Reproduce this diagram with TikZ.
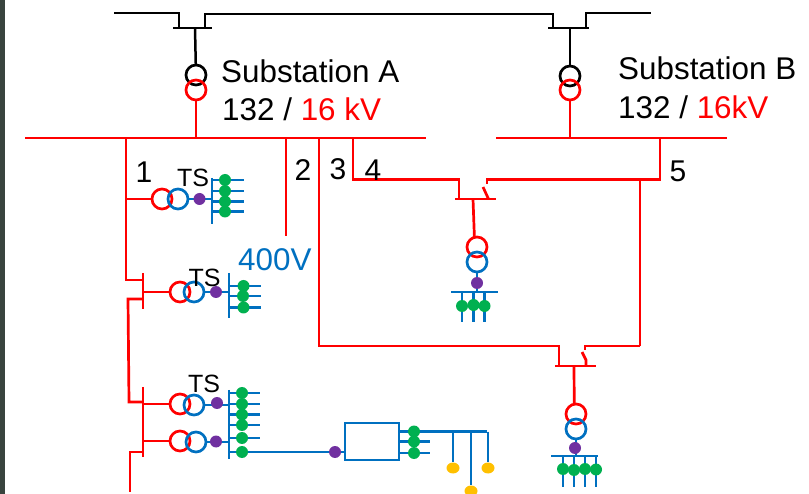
\documentclass[tikz,border=0pt]{standalone}
\usepackage{fontspec}
\setmainfont{Liberation Sans}
\usetikzlibrary{shapes.geometric,backgrounds}
\definecolor{lvblue}{HTML}{0070C0}
\definecolor{lvgreen}{HTML}{00B050}
\definecolor{lvpurple}{HTML}{7030A0}
\definecolor{lvyellow}{HTML}{FFC000}
\definecolor{photo}{HTML}{39443E}
\tikzstyle{hv} = [line width=2.5pt,black]
\tikzstyle{mv} = [line width=2.7pt,red]
\tikzstyle{lv} = [line width=2.7pt,lvblue]
\tikzstyle{winding} = [circle, minimum size=20pt, inner sep=0pt, outer sep=0pt, line width=2.7pt]
\tikzstyle{hvwinding} = [winding, draw=black]
\tikzstyle{mvwinding} = [winding, draw=red]
\tikzstyle{lvwinding} = [winding, draw=lvblue]
\tikzstyle{meter} = [circle, minimum size=12pt, inner sep=0pt, fill=lvpurple]
\tikzstyle{load} = [circle, minimum size=12pt, inner sep=0pt, fill=lvgreen]
\tikzstyle{pv} = [ellipse, minimum width=13pt, minimum height=11pt, inner sep=0pt, fill=lvyellow]
\tikzstyle{big} = [anchor=base west, inner sep=0pt, font=\fontsize{31.4}{31.4}\selectfont]
\tikzstyle{num} = [inner sep=0pt, font=\fontsize{30}{30}\selectfont]
\tikzstyle{tslabel} = [inner sep=0pt, font=\fontsize{25}{25}\selectfont]
\begin{document}
\begin{tikzpicture}[x=1pt,y=-1pt]
\useasboundingbox (0,0) rectangle (809,494);
\fill [photo] (0,0) rectangle (4.5,494);
% substations
\node (txAh)[hvwinding] at (196,75){};
\node (txBh)[hvwinding] at (570,76){};
\node (txAm)[mvwinding] at (196,90){};
\node (txBm)[mvwinding] at (570,90){};
\node (subA)[big] at (221,83){Substation A};
\node (kvA)[big] at (222,121){132 / \textcolor{red}{16 kV}};
\node (subB)[big] at (618,79.5){Substation B};
\node (kvB)[big] at (618,119){132 / \textcolor{red}{16kV}};
\node (lvtext)[big, text=lvblue] at (238,271){400V};
\node (numOne)[num] at (144,172){1};
\node (numTwo)[num] at (303,170){2};
\node (numThree)[num] at (338,169.5){3};
\node (numFour)[num] at (373,170){4};
\node (numFive)[num] at (678,171.5){5};
% first TS
\node (ts1m)[mvwinding] at (162,199){};
\node (ts1l)[lvwinding] at (178,199){};
\node (ts1p)[meter] at (199.5,199){};
\node (ts1x)[tslabel] at (193,178){TS};
\node (g1a)[load] at (225,180){};
\node (g1b)[load] at (225,191){};
\node (g1c)[load] at (225,201.5){};
\node (g1d)[load] at (225,211.5){};
% second TS
\node (ts2m)[mvwinding] at (180,292){};
\node (ts2l)[lvwinding] at (194,292){};
\node (ts2p)[meter] at (216,292){};
\node (ts2x)[tslabel] at (204.5,277.5){TS};
\node (g2a)[load] at (243.5,286){};
\node (g2b)[load] at (243,296){};
\node (g2c)[load] at (243.5,307.5){};
% third TS
\node (ts3m)[mvwinding] at (180,404){};
\node (ts3l)[lvwinding] at (194,405){};
\node (ts3p)[meter] at (217,403){};
\node (ts3x)[tslabel] at (204,384){TS};
\node (ts4m)[mvwinding] at (180,441){};
\node (ts4l)[lvwinding] at (196,442){};
\node (ts4p)[meter] at (216,441.5){};
\node (g3a)[load] at (242,393){};
\node (g3b)[load] at (242,404){};
\node (g3c)[load] at (242,414.5){};
\node (g3d)[load] at (242,425){};
\node (g3e)[load] at (242,438){};
\node (g3f)[load] at (242,452){};
% cabinet
\node (cab)[draw=lvblue, line width=2.7pt, minimum width=54pt, minimum height=37pt, inner sep=0pt, outer sep=0pt] at (372,441.5){};
\node (cabp)[meter] at (335,452){};
\node (g5a)[load] at (414,431.5){};
\node (g5b)[load] at (414,441.5){};
\node (g5c)[load] at (414,453){};
\node (pvA)[pv] at (453,468){};
\node (pvB)[pv] at (471,491){};
\node (pvC)[pv] at (488,468){};
% TS under the sectionaliser
\node (secm)[mvwinding] at (477,247){};
\node (secl)[lvwinding] at (477,262){};
\node (secp)[meter] at (477,283){};
\node (g6a)[load] at (462,306){};
\node (g6b)[load] at (473.5,305){};
\node (g6c)[load] at (484.5,306){};
% TS under the ring unit
\node (rmum)[mvwinding] at (576,414){};
\node (rmul)[lvwinding] at (576,429){};
\node (rmup)[meter] at (575,448){};
\node (g7a)[load] at (563,469){};
\node (g7b)[load] at (574,470){};
\node (g7c)[load] at (585,469){};
\node (g7d)[load] at (596,469.5){};
% free ends
\coordinate (lineL) at (114,13);
\coordinate (lineM) at (553,14);
\coordinate (lineR) at (651,13);
\coordinate (barAl) at (173,28);
\coordinate (barAr) at (212,28);
\coordinate (barAa) at (179,28);
\coordinate (barAb) at (205,28);
\coordinate (barAt) at (195,28);
\coordinate (barBl) at (548,28);
\coordinate (barBr) at (589,28);
\coordinate (barBa) at (553,28);
\coordinate (barBb) at (586,28);
\coordinate (barBt) at (570,28);
\coordinate (busAl) at (25,138);
\coordinate (busAr) at (426,138);
\coordinate (busBl) at (496,138);
\coordinate (busBr) at (727,138);
\coordinate (feedTwo) at (286,236);
\coordinate (feedThree) at (319,346);
\coordinate (rmuSl) at (559,346);
\coordinate (rmuSr) at (585,346);
\coordinate (rmuBl) at (555,366);
\coordinate (rmuBr) at (596,366);
\coordinate (rmuBt) at (574,366);
\coordinate (rmuK) at (582,352);
\coordinate (rmuKb) at (586,360);
\coordinate (feedFive) at (640,346);
\coordinate (feedFour) at (353,179.5);
\coordinate (secSl) at (459,179.5);
\coordinate (secSr) at (487,179.5);
\coordinate (secBl) at (455,199);
\coordinate (secBr) at (496,199);
\coordinate (secBt) at (473,199);
\coordinate (secK) at (483,187);
\coordinate (secKb) at (488.5,199);
\coordinate (feedFiveT) at (660,179.5);
\coordinate (feedOne) at (126,280);
\coordinate (t2) at (143,273);
\coordinate (t2b) at (143,309);
\coordinate (t2c) at (128,299);
\coordinate (t3) at (143,387);
\coordinate (t3b) at (143,457);
\coordinate (t3c) at (129,402);
\coordinate (t3d) at (130,452);
\coordinate (t3e) at (130,492);
\coordinate (ts1t) at (212,178);
\coordinate (ts1b) at (212,224);
\coordinate (ts1e) at (244,180);
\coordinate (ts2t) at (229,273);
\coordinate (ts2b) at (229,318);
\coordinate (ts2e) at (261,287);
\coordinate (ts3t) at (229,390);
\coordinate (ts3b) at (229,459);
\coordinate (ts3e) at (260,393);
\coordinate (cabE) at (430,432);
\coordinate (pvE) at (487,432);
\coordinate (secbl) at (451,292);
\coordinate (secbr) at (498,292);
\coordinate (sece) at (463,322);
\coordinate (rmubl) at (551,456);
\coordinate (rmubr) at (598,456);
\coordinate (rmue) at (564,487);
\begin{scope}[on background layer]
% 132 kV side
\draw [hv](lineL) -| (barAa);
\draw [hv](barAb) |- (lineM) -- (barBa);
\draw [hv](barBb) |- (lineR);
\draw [hv](barAl) -- (barAr);
\draw [hv](barBl) -- (barBr);
\draw [hv](barAt) -- (txAh);
\draw [hv](barBt) -- (txBh);
% 16 kV side
\draw [mv](busAl) -- (busAr);
\draw [mv](busBl) -- (busBr);
\draw [mv](txAm) -- (txAm|-busAl);
\draw [mv](txBm) -- (txBm|-busBl);
\draw [mv](feedTwo|-busAl) -- (feedTwo);
\draw [mv](feedThree|-busAl) -- (feedThree) -- (rmuSl) -- (rmuSl|-rmuBl);
\draw [mv](rmuBl) -- (rmuBr);
\draw [mv](feedFive) -- (rmuSr) -- ++(0,4);
\draw [mv](rmuK) -- (rmuKb) -- (rmuKb|-rmuBl);
\draw [mv](rmuBt) -- (rmum.100);
\draw [mv](feedFour|-busAl) -- (feedFour) -- (secSl) -- (secSl|-secBl);
\draw [mv](secBl) -- (secBr);
\draw [mv](feedFiveT|-busBl) -- (feedFiveT) -- (secSr) -- ++(0,4.5);
\draw [mv](secK) -- (secKb);
\draw [mv](secBt) -- (secm.105);
\draw [mv](feedFive|-feedFiveT) -- (feedFive);
\draw [mv](feedOne|-busAl) -- (feedOne) -- (feedOne-|t2);
\draw [mv](t2) -- (t2b);
\draw [mv](t2c-|t2) -- (t2c) -- (t3c) -- (t3c-|t3);
\draw [mv](t3) -- (t3b);
\draw [mv](t3d-|t3) -- (t3d) -- (t3e);
\draw [mv](feedOne|-ts1m) -- (ts1m);
\draw [mv](t2|-ts2m) -- (ts2m);
\draw [mv](t3|-ts3m) -- (ts3m);
\draw [mv](t3|-ts4m) -- (ts4m);
% first TS
\draw [lv](ts1l) -- (ts1l-|ts1t);
\draw [lv](ts1t) -- (ts1b);
\draw [lv](ts1t|-g1a) -- (ts1e|-g1a);
\draw [lv](ts1t|-g1b) -- (ts1e|-g1b);
\draw [lv](ts1t|-g1c) -- (ts1e|-g1c);
\draw [lv](ts1t|-g1d) -- (ts1e|-g1d);
% second TS
\draw [lv](ts2l) -- (ts2l-|ts2t);
\draw [lv](ts2t) -- (ts2b);
\draw [lv](ts2t|-g2a) -- (ts2e|-g2a);
\draw [lv](ts2t|-g2b) -- (ts2e|-g2b);
\draw [lv](ts2t|-g2c) -- (ts2e|-g2c);
% third TS
\draw [lv](ts3l) -- (ts3l-|ts3t);
\draw [lv](ts4l) -- (ts4l-|ts3t);
\draw [lv](ts3t) -- (ts3b);
\draw [lv](ts3t|-g3a) -- (ts3e|-g3a);
\draw [lv](ts3t|-g3b) -- (ts3e|-g3b);
\draw [lv](ts3t|-g3c) -- (ts3e|-g3c);
\draw [lv](ts3t|-g3d) -- (ts3e|-g3d);
\draw [lv](ts3t|-g3e) -- (ts3e|-g3e);
\draw [lv](ts3t|-g3f) -- (cab.west|-g3f);
% cabinet
\draw [lv](cab.east|-g5a) -- (pvE|-g5a);
\draw [lv](cab.east|-g5b) -- (cabE|-g5b);
\draw [lv](cab.east|-g5c) -- (cabE|-g5c);
\draw [lv](pvA|-g5a) -- (pvA);
\draw [lv](pvB|-g5a) -- (pvB);
\draw [lv](pvC|-g5a) -- (pvC);
% TS under the sectionaliser
\draw [lv](secl) -- (secl|-secbl);
\draw [lv](secbl) -- (secbr);
\draw [lv](g6a|-secbl) -- (g6a|-sece);
\draw [lv](g6b|-secbl) -- (g6b|-sece);
\draw [lv](g6c|-secbl) -- (g6c|-sece);
% TS under the ring unit
\draw [lv](rmul) -- (rmul|-rmubl);
\draw [lv](rmubl) -- (rmubr);
\draw [lv](g7a|-rmubl) -- (g7a|-rmue);
\draw [lv](g7b|-rmubl) -- (g7b|-rmue);
\draw [lv](g7c|-rmubl) -- (g7c|-rmue);
\draw [lv](g7d|-rmubl) -- (g7d|-rmue);
\end{scope}
\end{tikzpicture}
\end{document}
